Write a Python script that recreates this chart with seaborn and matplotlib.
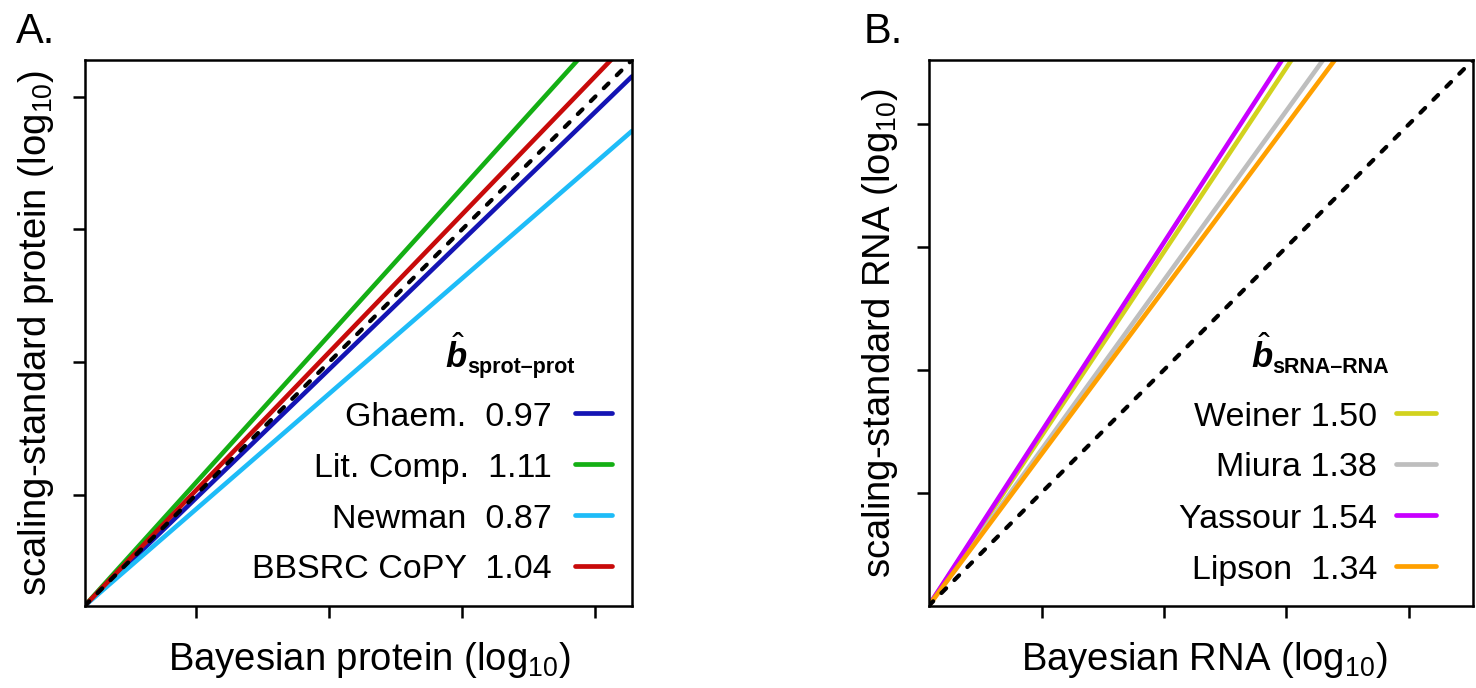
import numpy as np
import pandas as pd
import matplotlib
matplotlib.use("Agg")
import matplotlib.pyplot as plt
from matplotlib.lines import Line2D
import seaborn as sns

# Fitted scaling exponents (slopes in log10-log10 space)
protein_sets = ["Ghaem.", "Lit. Comp.", "Newman", "BBSRC CoPY"]
protein_slopes = [0.97, 1.11, 0.87, 1.04]
protein_gaps = ["  ", "  ", "  ", "  "]
protein_colors = ["#1414B4", "#14AF14", "#1EBCF8", "#C80A0A"]

rna_sets = ["Weiner", "Miura", "Yassour", "Lipson"]
rna_slopes = [1.50, 1.38, 1.54, 1.34]
rna_gaps = [" ", " ", " ", "  "]
rna_colors = ["#D2D21E", "#BEBEBE", "#C800FF", "#FFA000"]

# Axis extent (log10 units from the common origin) and tick positions
protein_span = [0.0, 4.11]
protein_ticks = [0.835, 1.835, 2.835, 3.835]
rna_span = [0.0, 4.45]
rna_ticks = [0.925, 1.925, 2.925, 3.925]

W, H = 1476, 688

sns.set_theme(style="ticks")
plt.rcParams.update({
    "font.family": ["Liberation Sans", "DejaVu Sans"],
    "mathtext.fontset": "custom",
    "mathtext.rm": "Liberation Sans",
    "mathtext.it": "Liberation Sans:italic:bold",
    "mathtext.bf": "Liberation Sans:bold",
    "text.color": "black",
    "axes.labelcolor": "black",
    "axes.linewidth": 1.8,
    "axes.edgecolor": "black",
    "xtick.color": "black",
    "ytick.color": "black",
    "xtick.major.size": 8.8,
    "ytick.major.size": 8.8,
    "xtick.major.width": 1.8,
    "ytick.major.width": 1.8,
    "xtick.direction": "out",
    "ytick.direction": "out",
})

fig = plt.figure(figsize=(W / 100, H / 100), dpi=100)


def add_axes_px(left, top, right, bottom):
    return fig.add_axes([left / W, (H - bottom) / H, (right - left) / W, (bottom - top) / H])


def to_axes(box, x, y):
    left, top, right, bottom = box
    return (x - left) / (right - left), (bottom - y) / (bottom - top)


def draw_panel(box, names, slopes, gaps, colors, span, ticks,
               xlabel, ylabel, subscript, letter, letter_x,
               text_right, line_x, header_x, sub_x, xlabel_center):
    ax = add_axes_px(*box)
    x = np.array(span)
    df = pd.DataFrame({
        "set": np.repeat(names, len(x)),
        "x": np.tile(x, len(names)),
        "y": np.concatenate([s * x for s in slopes]),
    })
    sns.lineplot(data=df, x="x", y="y", hue="set", hue_order=names,
                 palette=dict(zip(names, colors)), linewidth=3.3,
                 estimator=None, sort=False, legend=False, ax=ax)
    ident = pd.DataFrame({"x": x, "y": x})
    sns.lineplot(data=ident, x="x", y="y", color="black", linewidth=3.0,
                 estimator=None, sort=False, ax=ax)
    ident_line = ax.get_lines()[-1]
    ident_line.set_dashes([1.6, 2.8])
    ident_line.set_dash_capstyle("round")

    ax.set_xlim(span)
    ax.set_ylim(span)
    ax.set_xticks(ticks)
    ax.set_yticks(ticks)
    ax.tick_params(labelbottom=False, labelleft=False)
    ax.set_xlabel(xlabel, fontsize=27.5, labelpad=15)
    ax.set_ylabel(ylabel, fontsize=27.5, labelpad=12)
    lx, _ = to_axes(box, xlabel_center, 0)
    ax.xaxis.set_label_coords(lx, -0.0)
    ax.xaxis.label.set_verticalalignment("top")
    ax.xaxis.set_label_coords(lx, -0.062)
    for sp in ax.spines.values():
        sp.set_visible(True)

    # legend: header, right-aligned labels, colour keys
    hx, hy = to_axes(box, header_x, 368)
    ax.text(hx, hy, r"$\hat{b}$", transform=ax.transAxes, fontsize=25,
            ha="left", va="baseline")
    sx, sy = to_axes(box, sub_x, 373)
    ax.text(sx, sy, subscript, transform=ax.transAxes, fontsize=15.5,
            fontweight="bold", ha="left", va="baseline")
    for i, (name, gap, slope, color) in enumerate(zip(names, gaps, slopes, colors)):
        base = 425.5 + 51.0 * i
        tx, ty = to_axes(box, text_right, base)
        ax.text(tx, ty, f"{name}{gap}{slope:.2f}", transform=ax.transAxes,
                fontsize=24.5, ha="right", va="baseline")
        x0, ly = to_axes(box, line_x[0], base - 12.5)
        x1, _ = to_axes(box, line_x[1], base - 12.5)
        ax.add_line(Line2D([x0, x1], [ly, ly], transform=ax.transAxes,
                           color=color, linewidth=3.4, solid_capstyle="round"))

    fig.text(letter_x / W, 1 - 43 / H, letter, fontsize=30, ha="left", va="baseline")
    return ax


draw_panel((84.5, 60, 632, 606), protein_sets, protein_slopes, protein_gaps,
           protein_colors, protein_span, protein_ticks,
           r"Bayesian protein (log$_{10}$)",
           r"scaling-standard protein (log$_{10}$)",
           "sprot\u2013prot", "A.", 16,
           text_right=552, line_x=(575, 612), header_x=445, sub_x=467,
           xlabel_center=369)

draw_panel((928.5, 60, 1473, 606), rna_sets, rna_slopes, rna_gaps,
           rna_colors, rna_span, rna_ticks,
           r"Bayesian RNA (log$_{10}$)",
           r"scaling-standard RNA (log$_{10}$)",
           "sRNA\u2013RNA", "B.", 864,
           text_right=1377, line_x=(1396, 1436), header_x=1251, sub_x=1272,
           xlabel_center=1204)

fig.savefig("out.png", dpi=100)
